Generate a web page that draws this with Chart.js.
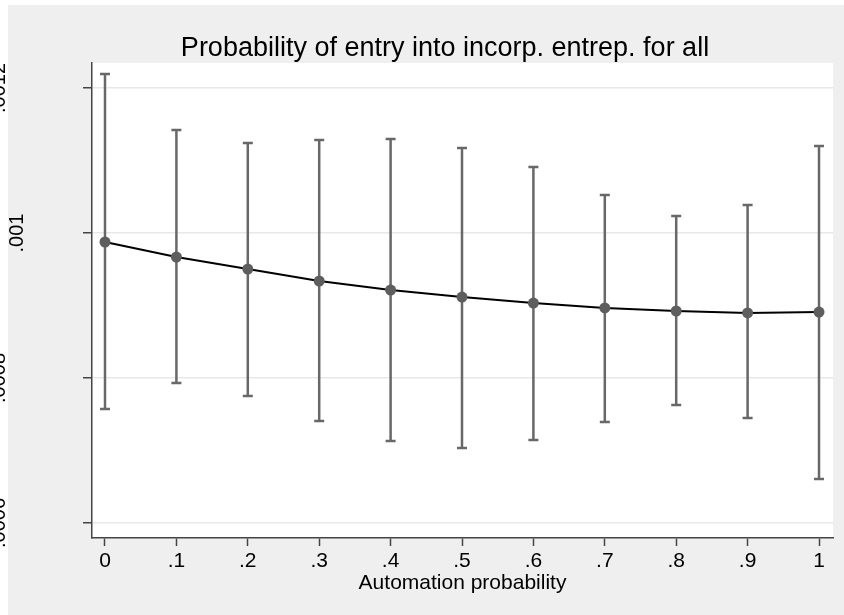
<!DOCTYPE html>
<html>
<head>
<meta charset="utf-8">
<script src="https://cdn.jsdelivr.net/npm/chart.js@4.4.1/dist/chart.umd.min.js"></script>
<style>
  html, body { margin: 0; padding: 0; background: #fff; }
  #wrap { position: relative; width: 844px; height: 615px; }
</style>
</head>
<body>
<div id="wrap"><canvas id="chart" width="844" height="615"></canvas></div>
<script>
// values
const automation = [0, 0.1, 0.2, 0.3, 0.4, 0.5, 0.6, 0.7, 0.8, 0.9, 1];
const entryProb = [0.0009876, 0.0009669, 0.0009503, 0.0009338, 0.0009214, 0.0009117,
  0.0009034, 0.0008966, 0.0008924, 0.0008897, 0.0008910];
const ciUpper = [0.0012193, 0.0011421, 0.0011241, 0.0011283, 0.0011297, 0.0011172,
  0.0010910, 0.0010524, 0.0010234, 0.0010386, 0.0011200];
const ciLower = [0.0007572, 0.0007931, 0.0007752, 0.0007407, 0.0007131, 0.0007034,
  0.0007145, 0.0007393, 0.0007628, 0.0007448, 0.0006607];
const xTicks = [0, 0.1, 0.2, 0.3, 0.4, 0.5, 0.6, 0.7, 0.8, 0.9, 1];
const xTickLabels = ['0', '.1', '.2', '.3', '.4', '.5', '.6', '.7', '.8', '.9', '1'];
const yTicks = [0.0006, 0.0008, 0.001, 0.0012];
const yTickLabels = ['.0006', '.0008', '.001', '.0012'];
const chartTitle = 'Probability of entry into incorp. entrep. for all';
const xTitle = 'Automation probability';

const FONT = 'Arial, "Liberation Sans", Helvetica, sans-serif';

// grey graph region + white plot region (stata look)
const backdrop = {
  id: 'backdrop',
  beforeDraw(chart) {
    const { ctx, chartArea: a } = chart;
    ctx.save();
    ctx.fillStyle = '#ffffff';
    ctx.fillRect(0, 0, chart.width, chart.height);
    ctx.fillStyle = '#efefef';
    ctx.fillRect(8, 5, chart.width - 8, chart.height - 5);
    ctx.fillStyle = '#ffffff';
    ctx.fillRect(a.left, a.top, a.right - a.left, a.bottom - a.top);
    ctx.restore();
  },
};

const errorBars = {
  id: 'errorBars',
  beforeDatasetsDraw(chart) {
    const { ctx, scales: { x, y } } = chart;
    ctx.save();
    ctx.strokeStyle = '#686868';
    ctx.lineWidth = 2.5;
    automation.forEach((v, i) => {
      const px = x.getPixelForValue(v);
      const top = y.getPixelForValue(ciUpper[i]);
      const bot = y.getPixelForValue(ciLower[i]);
      ctx.beginPath();
      ctx.moveTo(px, top);
      ctx.lineTo(px, bot);
      ctx.moveTo(px - 5, top);
      ctx.lineTo(px + 5, top);
      ctx.moveTo(px - 5, bot);
      ctx.lineTo(px + 5, bot);
      ctx.stroke();
    });
    ctx.restore();
  },
};

// rotated y labels (partly cut off at the left edge, as in the source) and the title
const labels = {
  id: 'labels',
  afterDraw(chart) {
    const { ctx, scales: { y } } = chart;
    ctx.save();
    ctx.fillStyle = '#000';
    ctx.font = '20px ' + FONT;
    yTicks.forEach((v, i) => {
      const py = y.getPixelForValue(v);
      const w = ctx.measureText(yTickLabels[i]).width;
      const bx = 87 - 1.64 * w;
      ctx.save();
      ctx.translate(bx, py);
      ctx.rotate(-Math.PI / 2);
      ctx.textAlign = 'center';
      ctx.textBaseline = 'alphabetic';
      ctx.fillText(yTickLabels[i], 0, 0);
      ctx.restore();
    });
    ctx.font = '27px ' + FONT;
    ctx.textAlign = 'center';
    ctx.textBaseline = 'alphabetic';
    ctx.fillText(chartTitle, 445, 56);
    ctx.restore();
  },
};

new Chart(document.getElementById('chart'), {
  type: 'line',
  data: {
    datasets: [{
      data: automation.map((v, i) => ({ x: v, y: entryProb[i] })),
      borderColor: '#000',
      borderWidth: 2,
      pointRadius: 5.5,
      pointBackgroundColor: '#5e5e5e',
      pointBorderWidth: 0,
      tension: 0,
    }],
  },
  options: {
    responsive: false,
    animation: false,
    layout: { padding: { top: 63, right: 11, left: 0, bottom: 0 } },
    plugins: { legend: { display: false }, tooltip: { enabled: false }, title: { display: false } },
    scales: {
      x: {
        type: 'linear',
        min: -0.0182,
        max: 1.0196,
        afterBuildTicks: (s) => { s.ticks = xTicks.map((v) => ({ value: v })); },
        afterFit: (s) => { s.height = 77; },
        grid: { drawOnChartArea: false, tickLength: 8, tickColor: '#444', tickWidth: 1.5 },
        border: { color: '#444', width: 1.5 },
        ticks: {
          color: '#000',
          font: { family: FONT, size: 21 },
          padding: 3,
          maxRotation: 0,
          autoSkip: false,
          callback: (v) => xTickLabels[xTicks.indexOf(v)],
        },
        title: {
          display: true,
          text: xTitle,
          color: '#000',
          font: { family: FONT, size: 21 },
          padding: { top: 0, bottom: 19 },
        },
      },
      y: {
        min: 0.0005793,
        max: 0.0012345,
        afterBuildTicks: (s) => { s.ticks = yTicks.map((v) => ({ value: v })); },
        afterFit: (s) => { s.width = 92; },
        grid: { color: '#e8e8e8', lineWidth: 1.5, tickLength: 9, tickColor: '#444', tickWidth: 1.5 },
        border: { color: '#444', width: 1.5 },
        ticks: { display: false },
      },
    },
  },
  plugins: [backdrop, errorBars, labels],
});
</script>
</body>
</html>
